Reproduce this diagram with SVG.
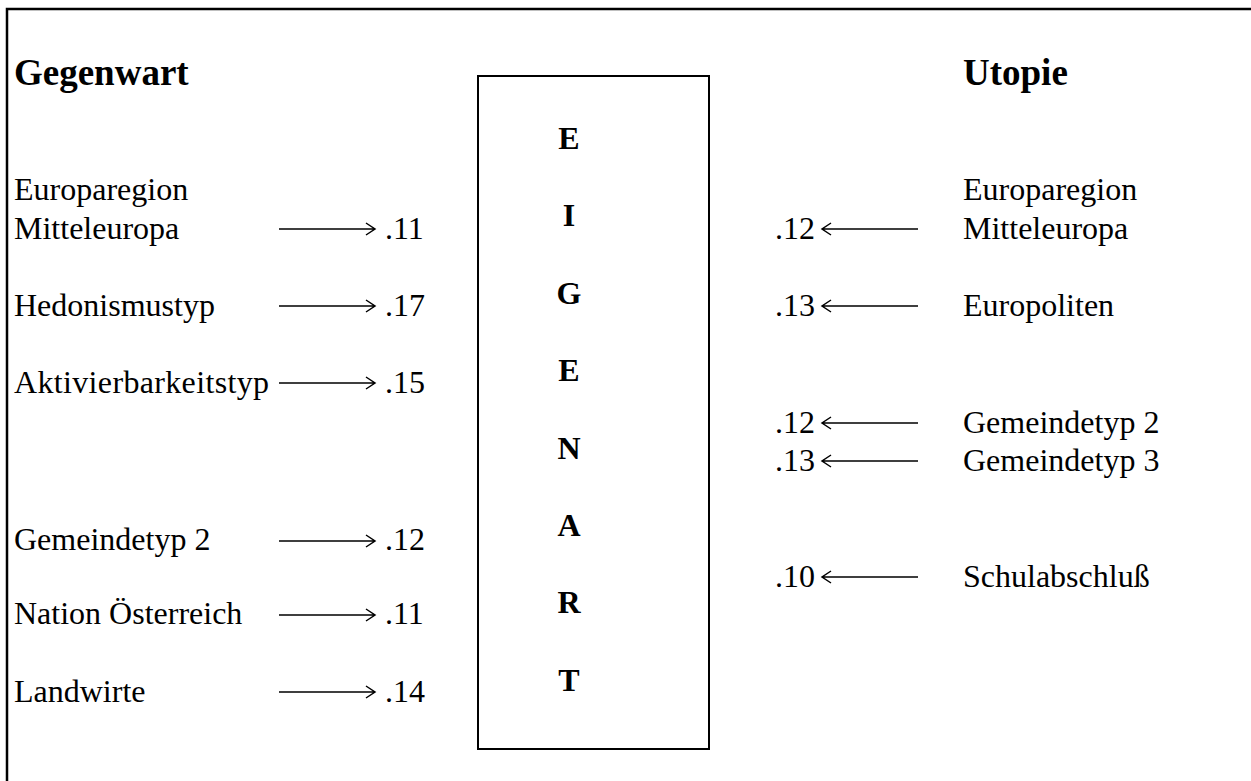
<svg xmlns="http://www.w3.org/2000/svg" width="1251" height="781" viewBox="0 0 1251 781" font-family="'Liberation Serif', 'Times New Roman', serif">
<style>
text{font-family:"Liberation Serif","Times New Roman",serif;fill:#000}
.t{font-size:32px}
.h{font-size:37px;font-weight:bold}
.c{font-size:32px;font-weight:bold;text-anchor:middle}
.ln{stroke:#000;stroke-width:1.5;fill:none}
</style>
<rect x="0" y="0" width="1251" height="781" fill="#fff"/>
<path d="M7,790 V9 H1260" fill="none" stroke="#000" stroke-width="2.5"/>
<g id="left">
<text class="h" x="14" y="85">Gegenwart</text>
<text class="t" x="14" y="200">Europaregion</text>
<text class="t" x="14" y="239">Mitteleuropa</text>
<text class="t" x="14" y="316">Hedonismustyp</text>
<text class="t" x="14" y="393" textLength="255" lengthAdjust="spacing">Aktivierbarkeitstyp</text>
<text class="t" x="14" y="550">Gemeindetyp 2</text>
<text class="t" x="14" y="624">Nation Österreich</text>
<text class="t" x="14" y="702">Landwirte</text>
<text class="t" x="385" y="239">.11</text>
<text class="t" x="385" y="316">.17</text>
<text class="t" x="385" y="393">.15</text>
<text class="t" x="385" y="550">.12</text>
<text class="t" x="385" y="624">.11</text>
<text class="t" x="385" y="702">.14</text>
</g>
<g id="center">
<rect x="478" y="76" width="231" height="673" fill="none" stroke="#000" stroke-width="2"/>
<text class="c" x="569" y="149">E</text>
<text class="c" x="569" y="226">I</text>
<text class="c" x="569" y="304">G</text>
<text class="c" x="569" y="381">E</text>
<text class="c" x="569" y="459">N</text>
<text class="c" x="569" y="536">A</text>
<text class="c" x="569" y="613">R</text>
<text class="c" x="569" y="691">T</text>
</g>
<g id="right">
<text class="h" x="963" y="85">Utopie</text>
<text class="t" x="963" y="200">Europaregion</text>
<text class="t" x="963" y="239">Mitteleuropa</text>
<text class="t" x="963" y="316">Europoliten</text>
<text class="t" x="963" y="433">Gemeindetyp 2</text>
<text class="t" x="963" y="471">Gemeindetyp 3</text>
<text class="t" x="963" y="587">Schulabschluß</text>
<text class="t" x="775" y="239">.12</text>
<text class="t" x="775" y="316">.13</text>
<text class="t" x="775" y="433">.12</text>
<text class="t" x="775" y="471">.13</text>
<text class="t" x="775" y="587">.10</text>
</g>
<g id="connectors" class="ln">
<path d="M279,229 H374 M366,223 L375,229 L366,235"/>
<path d="M279,306 H374 M366,300 L375,306 L366,312"/>
<path d="M279,383 H374 M366,377 L375,383 L366,389"/>
<path d="M279,541 H374 M366,535 L375,541 L366,547"/>
<path d="M279,615 H374 M366,609 L375,615 L366,621"/>
<path d="M279,692 H374 M366,686 L375,692 L366,698"/>
<path d="M918,229 H823 M831,223 L822,229 L831,235"/>
<path d="M918,306 H823 M831,300 L822,306 L831,312"/>
<path d="M918,423 H823 M831,417 L822,423 L831,429"/>
<path d="M918,461 H823 M831,455 L822,461 L831,467"/>
<path d="M918,577 H823 M831,571 L822,577 L831,583"/>
</g>
</svg>
